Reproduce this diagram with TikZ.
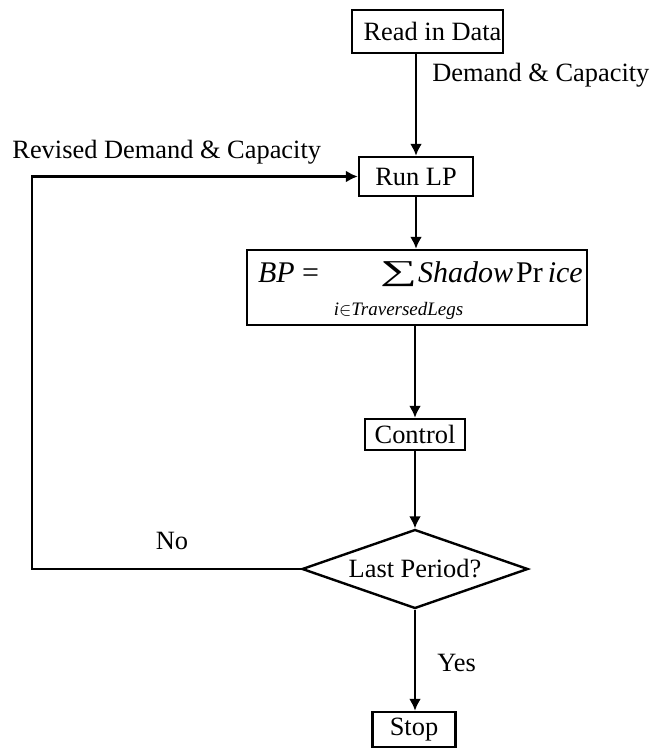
\documentclass[tikz,border=0pt]{standalone}
\usepackage{fontspec}
\usepackage{graphicx}
\setmainfont{Liberation Serif}
\usetikzlibrary{shapes.geometric, arrows.meta}

\begin{document}
\begin{tikzpicture}[x=0.5pt, y=-0.5pt, >={Latex[length=6pt,width=6pt]},
  every node/.style={font=\fontsize{13.2}{16}\selectfont},
  box/.style={draw, line width=1.2pt, inner sep=0pt},
  lbl/.style={inner sep=0pt, anchor=west},
  flow/.style={->, line width=1.4pt}]

\useasboundingbox (0,0) rectangle (652,749);

% Draw the steps
\node[box, minimum width=75.5pt, minimum height=21.5pt] (read) at (427.5,31.5) {\hspace{5pt}Read in Data};
\node[box, minimum width=57pt, minimum height=19.5pt] (runlp) at (416,176.5) {Run LP};
\node[box, minimum width=170pt, minimum height=37.5pt, text height=10pt, text depth=15.5pt] (bp) at (417,287.5)
  {\makebox[170pt][l]{\hspace{5.5pt}\fontsize{15}{18}\selectfont\textit{BP} =\hspace{30.5pt}%
   \makebox[0pt][l]{\makebox[18.5pt]{\raisebox{-16.5pt}[0pt][0pt]{\fontsize{9.5}{11}\selectfont\textit{i}$\in$\textit{TraversedLegs}}}}%
   \raisebox{-2.5pt}{\resizebox*{18.5pt}{12.5pt}{\raisebox{\depth}{∑}}}\hspace{0.5pt}%
   \textit{Shadow}\hspace{1.5pt}Pr\hspace{2.5pt}\textit{ice}}};
\node[box, minimum width=50pt, minimum height=15.5pt] (control) at (415,434.5) {Control};
\node[draw, diamond, line width=1.2pt, inner sep=0pt, aspect=2.86,
  minimum width=113pt, minimum height=39.5pt] (last) at (415,569) {Last Period?};
\node[box, minimum width=41.5pt, minimum height=17.5pt] (stop) at (414,729.5) {Stop};

% Draw the labels
\node[lbl] (dc) at (432,75) {Demand \& Capacity};
\node[lbl] (rdc) at (12,152) {Revised Demand \& Capacity};
\node (no) at (172,541) {No};
\node[lbl] (yes) at (437,663) {Yes};

% Draw the arrows
\coordinate (fb) at (32,0);
\draw[flow] (runlp.north |- read.south) -- (runlp.north);
\draw[flow] (runlp.south) -- (runlp.south |- bp.north);
\draw[flow] (bp.south -| control.north) -- (control.north);
\draw[flow] (control.south) -- (last.north);
\draw[flow] (last.south) -- (last.south |- stop.north);
\draw[flow] (last.west) -- (last.west -| fb) |- (runlp.west);
\end{tikzpicture}
\end{document}
